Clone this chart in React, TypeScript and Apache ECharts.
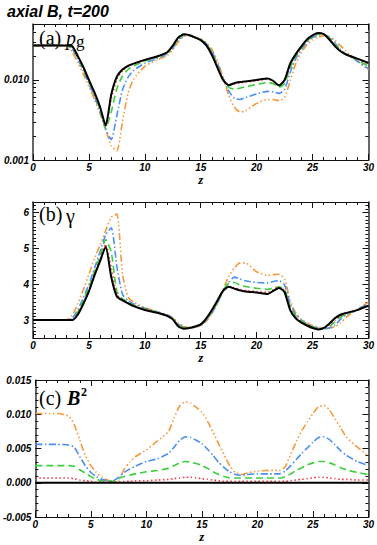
import React, { useEffect, useRef } from "react";
import * as echarts from "echarts";

// z grid shared by all curves
const zValues = [
  0, 1, 2, 3,
  3.5, 4, 4.5, 5, 5.5, 6, 6.5, 7, 7.5, 8, 8.5, 9,
  10, 11, 12,
  12.5, 13, 13.5, 14, 14.5, 15, 15.5, 16, 16.5, 17, 17.5, 18, 18.5, 19,
  20, 21,
  21.5, 22, 22.5, 23, 23.5, 24, 24.5, 25, 25.5, 26, 26.5, 27, 27.5, 28,
  29, 30,
];

// (a) gas pressure p_g
const pgBlack = [
  0.027, 0.027, 0.027, 0.027,
  0.0265, 0.020, 0.0145, 0.0100, 0.0070, 0.0046, 0.0027, 0.0066, 0.0110, 0.0135, 0.0150, 0.0160,
  0.0178, 0.0195, 0.0222,
  0.0268, 0.0340, 0.0372, 0.0362, 0.0338, 0.0315, 0.0270, 0.0205, 0.0142, 0.0100, 0.0086, 0.0091, 0.0094, 0.0096,
  0.0100, 0.0104,
  0.0097, 0.0085, 0.0100, 0.0160, 0.0210, 0.0262, 0.0320, 0.0360, 0.0385, 0.0375, 0.0320, 0.0265, 0.0228, 0.0208,
  0.0185, 0.0163,
];
const pgRed = [
  0.027, 0.027, 0.027, 0.027,
  0.0262, 0.0195, 0.0142, 0.0098, 0.0068, 0.0045, 0.0026, 0.0058, 0.0102, 0.0130, 0.0147, 0.0158,
  0.0176, 0.0194, 0.0221,
  0.0265, 0.0335, 0.0370, 0.0362, 0.0340, 0.0318, 0.0275, 0.0212, 0.0148, 0.0103, 0.0087, 0.0089, 0.0092, 0.0094,
  0.0098, 0.0102,
  0.0096, 0.0085, 0.0097, 0.0152, 0.0205, 0.0258, 0.0315, 0.0355, 0.0380, 0.0378, 0.0328, 0.0270, 0.0230, 0.0208,
  0.0182, 0.0158,
];
const pgGreen = [
  0.027, 0.027, 0.027, 0.027,
  0.0255, 0.0190, 0.0137, 0.0095, 0.0066, 0.0043, 0.0025, 0.0040, 0.0078, 0.0112, 0.0135, 0.0150,
  0.0172, 0.0190, 0.0218,
  0.0258, 0.0325, 0.0365, 0.0362, 0.0342, 0.0320, 0.0280, 0.0220, 0.0152, 0.0102, 0.0081, 0.0077, 0.0079, 0.0082,
  0.0088, 0.0093,
  0.0090, 0.0081, 0.0090, 0.0142, 0.0198, 0.0250, 0.0305, 0.0348, 0.0372, 0.0375, 0.0335, 0.0278, 0.0235, 0.0208,
  0.0178, 0.0148,
];
const pgBlue = [
  0.027, 0.027, 0.027, 0.0268,
  0.0245, 0.0182, 0.0130, 0.0090, 0.0062, 0.0040, 0.0024, 0.0018, 0.0036, 0.0075, 0.0108, 0.0132,
  0.0162, 0.0183, 0.0212,
  0.0250, 0.0315, 0.0360, 0.0360, 0.0342, 0.0322, 0.0285, 0.0228, 0.0160, 0.0105, 0.0073, 0.0059, 0.0057, 0.0060,
  0.0067, 0.0072,
  0.0071, 0.0068, 0.0076, 0.0125, 0.0185, 0.0240, 0.0295, 0.0338, 0.0362, 0.0370, 0.0345, 0.0290, 0.0242, 0.0210,
  0.0172, 0.0138,
];
const pgOrange = [
  0.027, 0.027, 0.027, 0.0262,
  0.0225, 0.0165, 0.0118, 0.0082, 0.0057, 0.0038, 0.0024, 0.0015, 0.0013, 0.0030, 0.0068, 0.0102,
  0.0148, 0.0175, 0.0202,
  0.0238, 0.0300, 0.0350, 0.0355, 0.0342, 0.0325, 0.0292, 0.0240, 0.0172, 0.0108, 0.0065, 0.0046, 0.0040, 0.0041,
  0.0051, 0.0057,
  0.0057, 0.0055, 0.0060, 0.0098, 0.0160, 0.0220, 0.0275, 0.0315, 0.0342, 0.0355, 0.0348, 0.0312, 0.0268, 0.0228,
  0.0172, 0.0133,
];

// (b) Lorentz factor gamma
const gBlack = [
  3.0, 3.0, 3.0, 3.0,
  3.0, 3.15, 3.45, 3.80, 4.25, 4.65, 5.05, 4.20, 3.66, 3.55, 3.47, 3.39,
  3.28, 3.21, 3.12,
  3.02, 2.82, 2.76, 2.78, 2.82, 2.88, 3.05, 3.28, 3.55, 3.82, 3.93, 3.88, 3.83, 3.80,
  3.77, 3.73,
  3.82, 3.90, 3.78, 3.28, 3.05, 2.93, 2.85, 2.78, 2.74, 2.78, 2.90, 3.05, 3.15, 3.20,
  3.28, 3.40,
];
const gRed = [
  3.0, 3.0, 3.0, 3.0,
  3.0, 3.18, 3.48, 3.83, 4.28, 4.70, 5.12, 4.45, 3.72, 3.57, 3.48, 3.40,
  3.30, 3.22, 3.12,
  3.02, 2.84, 2.77, 2.78, 2.82, 2.88, 3.03, 3.25, 3.52, 3.80, 3.93, 3.90, 3.86, 3.83,
  3.80, 3.78,
  3.85, 3.92, 3.82, 3.32, 3.08, 2.95, 2.86, 2.79, 2.75, 2.77, 2.86, 3.00, 3.12, 3.19,
  3.28, 3.40,
];
const gGreen = [
  3.0, 3.0, 3.0, 3.0,
  3.02, 3.22, 3.55, 3.92, 4.35, 4.80, 5.25, 4.90, 3.80, 3.60, 3.50, 3.42,
  3.31, 3.23, 3.13,
  3.04, 2.86, 2.79, 2.78, 2.81, 2.87, 3.02, 3.22, 3.50, 3.82, 4.03, 4.05, 3.98, 3.94,
  3.89, 3.86,
  3.90, 3.93, 3.85, 3.38, 3.12, 2.98, 2.88, 2.81, 2.76, 2.76, 2.82, 2.95, 3.08, 3.17,
  3.28, 3.42,
];
const gBlue = [
  3.0, 3.0, 3.0, 3.0,
  3.05, 3.28, 3.62, 4.00, 4.45, 4.92, 5.38, 5.58, 4.50, 3.72, 3.55, 3.45,
  3.33, 3.24, 3.14,
  3.05, 2.88, 2.80, 2.78, 2.80, 2.86, 3.00, 3.20, 3.48, 3.80, 4.05, 4.20, 4.15, 4.10,
  4.05, 4.04,
  4.08, 4.10, 3.98, 3.45, 3.15, 3.00, 2.90, 2.82, 2.78, 2.76, 2.78, 2.86, 3.02, 3.15,
  3.30, 3.45,
];
const gOrange = [
  3.0, 3.0, 3.0, 3.02,
  3.13, 3.45, 3.85, 4.28, 4.72, 5.10, 5.50, 5.88, 5.96, 4.30, 3.65, 3.50,
  3.35, 3.25, 3.15,
  3.07, 2.92, 2.82, 2.79, 2.80, 2.84, 2.97, 3.18, 3.48, 3.85, 4.22, 4.45, 4.60, 4.60,
  4.35, 4.25,
  4.27, 4.28, 4.15, 3.55, 3.20, 3.03, 2.92, 2.85, 2.80, 2.78, 2.78, 2.82, 2.92, 3.08,
  3.30, 3.50,
];

// (c) magnetic energy B^2
const bBlack = [
  0, 0, 0, 0,
  0, 0, 0, 0, 0, 0, 0, 0, 0, 0, 0, 0,
  0, 0, 0,
  0, 0, 0, 0, 0, 0, 0, 0, 0, 0, 0, 0, 0, 0,
  0, 0,
  0, 0, 0, 0, 0, 0, 0, 0, 0, 0, 0, 0, 0, 0,
  0, 0,
];
const bRed = [
  0.0007, 0.0007, 0.0007, 0.0007,
  0.0006, 0.0004, 0.0003, 0.0002, 0.0001, 0.0001, 0.0001, 0.0001, 0.0001, 0.0002, 0.0002, 0.0003,
  0.0003, 0.0004, 0.0005,
  0.0006, 0.0007, 0.0008, 0.0008, 0.0007, 0.0006, 0.0005, 0.0004, 0.0003, 0.0002, 0.0002, 0.0002, 0.0002, 0.0002,
  0.0002, 0.0002,
  0.0002, 0.0002, 0.0002, 0.0003, 0.0004, 0.0005, 0.0006, 0.0007, 0.0008, 0.0008, 0.0007, 0.0006, 0.0005, 0.0005,
  0.0004, 0.0004,
];
const bGreen = [
  0.0025, 0.0025, 0.0025, 0.0025,
  0.0024, 0.0019, 0.0014, 0.0009, 0.0005, 0.0003, 0.0002, 0.0002, 0.0006, 0.0009, 0.0011, 0.0013,
  0.0016, 0.0018, 0.0021,
  0.0025, 0.0029, 0.0031, 0.0030, 0.0028, 0.0025, 0.0021, 0.0016, 0.0012, 0.0009, 0.0007, 0.0007, 0.0007, 0.0007,
  0.0007, 0.0007,
  0.0007, 0.0007, 0.0009, 0.0013, 0.0018, 0.0022, 0.0026, 0.0029, 0.0031, 0.0031, 0.0029, 0.0026, 0.0022, 0.0019,
  0.0015, 0.0012,
];
const bBlue = [
  0.0056, 0.0056, 0.0056, 0.0055,
  0.0052, 0.0038, 0.0025, 0.0015, 0.0009, 0.0005, 0.0003, 0.0003, 0.0008, 0.0015, 0.0020, 0.0024,
  0.0031, 0.0035, 0.0043,
  0.0052, 0.0062, 0.0067, 0.0066, 0.0062, 0.0057, 0.0049, 0.0040, 0.0030, 0.0022, 0.0016, 0.0012, 0.0011, 0.0012,
  0.0013, 0.0013,
  0.0013, 0.0013, 0.0017, 0.0025, 0.0034, 0.0043, 0.0051, 0.0059, 0.0066, 0.0067, 0.0063, 0.0055, 0.0047, 0.0040,
  0.0031, 0.0025,
];
const bOrange = [
  0.0101, 0.0101, 0.0101, 0.0097,
  0.0085, 0.0062, 0.0040, 0.0025, 0.0015, 0.0008, 0.0004, 0.0002, 0.0004, 0.0020, 0.0030, 0.0038,
  0.0048, 0.0061, 0.0075,
  0.0095, 0.0112, 0.0118, 0.0116, 0.0110, 0.0103, 0.0090, 0.0074, 0.0057, 0.0041, 0.0025, 0.0015, 0.0012, 0.0014,
  0.0017, 0.0018,
  0.0018, 0.0018, 0.0023, 0.0042, 0.0060, 0.0076, 0.0089, 0.0101, 0.0111, 0.0113, 0.0106, 0.0093, 0.0080, 0.0067,
  0.0052, 0.0039,
];

// tick labels
const xTickLabels = ["0", "5", "10", "15", "20", "25", "30"];
const pgMajorTicks = [0.001, 0.01];
const gammaMajorTicks = [3, 4, 5, 6];
const b2MajorTicks = [-0.005, 0, 0.005, 0.01, 0.015];

const LINE_STYLES: Record<string, any> = {
  orange: { color: "#f7993c", width: 1.6, type: [7, 2.5, 1.5, 2.5, 1.5, 2.5, 1.5, 2.5] },
  blue: { color: "#4b8ff2", width: 1.6, type: [7, 2.5, 1.5, 2.5] },
  green: { color: "#3ccf3c", width: 1.6, type: [7, 4] },
  red: { color: "#f23c4a", width: 1.6, type: [1.5, 2.5] },
  black: { color: "#000000", width: 2, type: "solid" },
};

const tickFont = {
  fontFamily: "'Liberation Sans', Arial, sans-serif",
  fontWeight: "bold" as const,
  fontStyle: "italic" as const,
  fontSize: 10,
  color: "#000",
};

function xAxesFor(gridIndex: number) {
  const base = {
    type: "value",
    gridIndex,
    min: 0,
    max: 30,
    interval: 5,
    splitLine: { show: false },
    minorSplitLine: { show: false },
    axisLine: { show: true, onZero: false, lineStyle: { color: "#111", width: 1 } },
    axisTick: { show: true, inside: true, length: 6, lineStyle: { color: "#111", width: 1 } },
    minorTick: { show: true, splitNumber: 5, length: 3, lineStyle: { color: "#111", width: 1 } },
  };
  return [
    {
      ...base,
      position: "bottom",
      axisLabel: {
        ...tickFont,
        margin: 2,
        formatter: (v: number) => xTickLabels[Math.round(v / 5)] ?? "",
      },
      name: "z",
      nameLocation: "middle",
      nameGap: 13,
      nameTextStyle: {
        fontFamily: "'Liberation Serif', 'Times New Roman', serif",
        fontStyle: "italic",
        fontWeight: "bold",
        fontSize: 13,
        color: "#000",
      },
    },
    { ...base, position: "top", axisLabel: { show: false } },
  ];
}

function yAxesFor(
  gridIndex: number,
  min: number,
  max: number,
  majors: number[],
  minors: number[],
  fmt: (v: number) => string
) {
  const base = {
    type: "value",
    gridIndex,
    min,
    max,
    splitLine: { show: false },
    minorSplitLine: { show: false },
  };
  const major = (position: string, labels: boolean) => ({
    ...base,
    position,
    axisLine: { show: true, onZero: false, lineStyle: { color: "#333", width: 1.5 } },
    axisTick: { show: true, inside: true, length: 6, customValues: majors, lineStyle: { color: "#111", width: 1 } },
    axisLabel: labels
      ? { ...tickFont, margin: 4, customValues: majors, formatter: fmt }
      : { show: false },
  });
  const minor = (position: string) => ({
    ...base,
    position,
    axisLine: { show: false, onZero: false },
    axisTick: { show: true, inside: true, length: 3, customValues: minors, lineStyle: { color: "#111", width: 1 } },
    axisLabel: { show: false },
  });
  return [major("left", true), minor("left"), major("right", false), minor("right")];
}

function App() {
  const ref = useRef<HTMLDivElement>(null);

  useEffect(() => {
    if (!ref.current) return;
    const chart = echarts.init(ref.current, undefined, { renderer: "svg" });

    const log10 = (v: number) => Math.log10(v);
    const pgMax = log10(0.05);
    const pgMinor: number[] = [];
    for (const n of [-3, -2]) {
      for (let k = 2; k <= 9; k++) {
        const v = log10(k * Math.pow(10, n));
        if (v <= pgMax + 1e-9) pgMinor.push(v);
      }
    }
    const gMinor: number[] = [];
    for (let k = 25; k <= 63; k++) gMinor.push(k / 10);
    const bMinor: number[] = [];
    for (let k = -5; k <= 15; k++) bMinor.push(k / 1000);

    const panels = [
      {
        data: { orange: pgOrange, blue: pgBlue, green: pgGreen, red: pgRed, black: pgBlack },
        tf: log10,
      },
      {
        data: { orange: gOrange, blue: gBlue, green: gGreen, red: gRed, black: gBlack },
        tf: (v: number) => v,
      },
      {
        data: { orange: bOrange, blue: bBlue, green: bGreen, red: bRed, black: bBlack },
        tf: (v: number) => v,
      },
    ];

    const series: any[] = [];
    panels.forEach((p, i) => {
      (["orange", "blue", "green", "red", "black"] as const).forEach((key) => {
        const vals = (p.data as any)[key] as number[];
        series.push({
          type: "line",
          xAxisIndex: i * 2,
          yAxisIndex: i * 4,
          data: zValues.map((z, k) => [z, p.tf(vals[k])]),
          showSymbol: false,
          symbol: "none",
          smooth: 0.2,
          lineStyle: LINE_STYLES[key],
          silent: true,
        });
      });
    });

    const serif = "'Liberation Serif', 'Times New Roman', serif";
    const txt = (text: string, x: number, y: number, extra: any = {}) => ({
      type: "text",
      x,
      y,
      silent: true,
      style: {
        text,
        fill: "#000",
        fontFamily: serif,
        fontSize: 20,
        verticalAlign: "middle",
        align: "left",
        ...extra,
      },
    });

    chart.setOption({
      animation: false,
      backgroundColor: "#ffffff",
      grid: [
        { left: 33, right: 8, top: 24, height: 136 },
        { left: 33, right: 8, top: 202, height: 136 },
        { left: 33, right: 8, top: 380, height: 137 },
      ],
      xAxis: [...xAxesFor(0), ...xAxesFor(1), ...xAxesFor(2)],
      yAxis: [
        ...yAxesFor(0, -3, pgMax, pgMajorTicks.map(log10), pgMinor, (v) => Math.pow(10, v).toFixed(3)),
        ...yAxesFor(1, 2.5, 6.3, gammaMajorTicks, gMinor, (v) => String(v)),
        ...yAxesFor(2, -0.005, 0.015, b2MajorTicks, bMinor, (v) => v.toFixed(3)),
      ],
      series,
      graphic: [
        {
          type: "text",
          x: 7,
          y: 11,
          silent: true,
          style: {
            text: "axial B, t=200",
            fill: "#000",
            fontFamily: "'Liberation Sans', Arial, sans-serif",
            fontWeight: "bold",
            fontStyle: "italic",
            fontSize: 16,
            verticalAlign: "middle",
          },
        },
        txt("(a)", 39, 38),
        txt("p", 66, 38, { fontStyle: "italic" }),
        txt("g", 76, 41, { fontSize: 17 }),
        txt("(b)", 39, 214),
        txt("γ", 66, 216),
        txt("(c)", 39, 398),
        txt("B", 67, 398, { fontStyle: "italic", fontWeight: "bold" }),
        txt("2", 81, 392, { fontWeight: "bold", fontSize: 12 }),
      ],
    });

    return () => chart.dispose();
  }, []);

  return (
    <div
      ref={ref}
      style={{ position: "absolute", left: 0, top: 0, width: 377, height: 545, background: "#fff" }}
    />
  );
}

export default App;
